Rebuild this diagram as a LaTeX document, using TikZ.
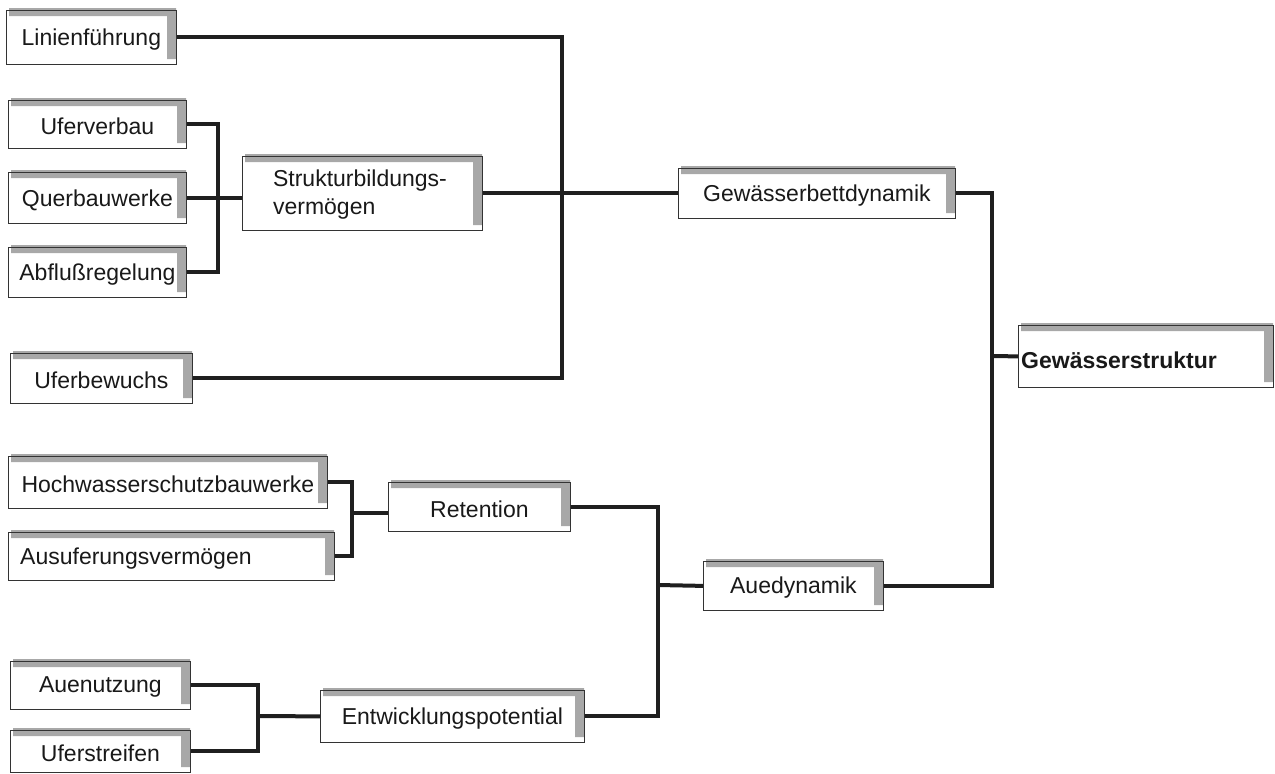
\documentclass[tikz,border=0pt]{standalone}
\usepackage{fontspec}
\setmainfont{Liberation Sans}
\tikzset{
  box/.style={draw=black!80, line width=0.8pt, fill=white, inner sep=0pt, anchor=north west},
  band/.style={fill=black!34},
  conn/.style={draw=black!88, line width=4pt},
  lbl/.style={font=\fontsize{23}{28}\selectfont, inner sep=0pt, text=black!90, yshift=-2pt}
}
\newcommand\bx[5]{%
  \node[box, minimum width={#4-#2}, minimum height={#5-#3}] (#1) at (#2,#3) {};
  \fill[band] ({#2+3},{#3-2}) -- ({#4},{#3-2}) -- ({#4},{#5-5}) -- ({#4-9},{#5-5})
     -- ({#4-9},{#3+6}) -- ({#2+3},{#3+6}) -- cycle;
  \draw[black!80, line width=0.8pt] (#1.south west) rectangle (#1.north east);
}
\begin{document}
\begin{tikzpicture}[x=1pt,y=-1pt]
\useasboundingbox (0,0) rectangle (1275,774);
% boxes
\bx{lin}{6}{10}{176}{64}
\bx{ufv}{8}{100}{186}{148}
\bx{qbw}{8}{172}{186}{223}
\bx{abf}{8}{247}{186}{297}
\bx{stru}{242}{156}{482}{230}
\bx{gbd}{678}{168}{955}{218}
\bx{ufb}{10}{353}{192}{403}
\bx{gs}{1018}{325}{1273}{387}
\bx{hws}{8}{456}{327}{508}
\bx{aus}{8}{532}{334}{580}
\bx{ret}{388}{482}{570}{531}
\bx{aue}{703}{561}{883}{610}
\bx{au}{10}{661}{190}{709}
\bx{ufs}{10}{730}{190}{772}
\bx{ent}{320}{690}{584}{742}
% connectors
\coordinate (j1) at (562,193);
\draw[conn] (lin.east) -| (j1) |- (ufb.east);
\draw[conn] (stru.east) -- (gbd.west);
\coordinate (j0) at (218,197);
\draw[conn] (ufv.east) -| (j0) |- (abf.east);
\draw[conn] (qbw.east) -- (qbw.east -| stru.west);
\coordinate (j2) at (992,356);
\draw[conn] (gbd.east) -| (j2) |- (aue.east);
\draw[conn] (j2) -- (gs.west);
\coordinate (j3) at (352,513);
\draw[conn] (hws.east) -| (j3) |- (aus.east);
\draw[conn] (j3) -- (j3 -| ret.west);
\coordinate (j4) at (658,585);
\draw[conn] (ret.east) -| (j4) |- (ent.east);
\draw[conn] (j4) -- (aue.west);
\coordinate (j5) at (258,716);
\draw[conn] (au.east) -| (j5) |- (ufs.east);
\draw[conn] (j5) -- (ent.west);
% labels
\node[lbl] at (lin.center) {Linienführung};
\node[lbl] at (ufv.center) {Uferverbau};
\node[lbl] at (qbw.center) {Querbauwerke};
\node[lbl] at (abf.center) {Abflußregelung};
\node[lbl, align=left] at (360,193) {Strukturbildungs-\\vermögen};
\node[lbl] at (gbd.center) {Gewässerbettdynamik};
\node[lbl] at (ufb.center) {Uferbewuchs};
\node[lbl, font=\fontsize{23}{28}\selectfont\bfseries, anchor=west] at (1021,358) {Gewässerstruktur};
\node[lbl] at (hws.center) {Hochwasserschutzbauwerke};
\node[lbl, anchor=west] at (20,557) {Ausuferungsvermögen};
\node[lbl] at (ret.center) {Retention};
\node[lbl] at (aue.center) {Auedynamik};
\node[lbl] at (au.center) {Auenutzung};
\node[lbl] at (ufs.center) {Uferstreifen};
\node[lbl] at (ent.center) {Entwicklungspotential};
\end{tikzpicture}
\end{document}
